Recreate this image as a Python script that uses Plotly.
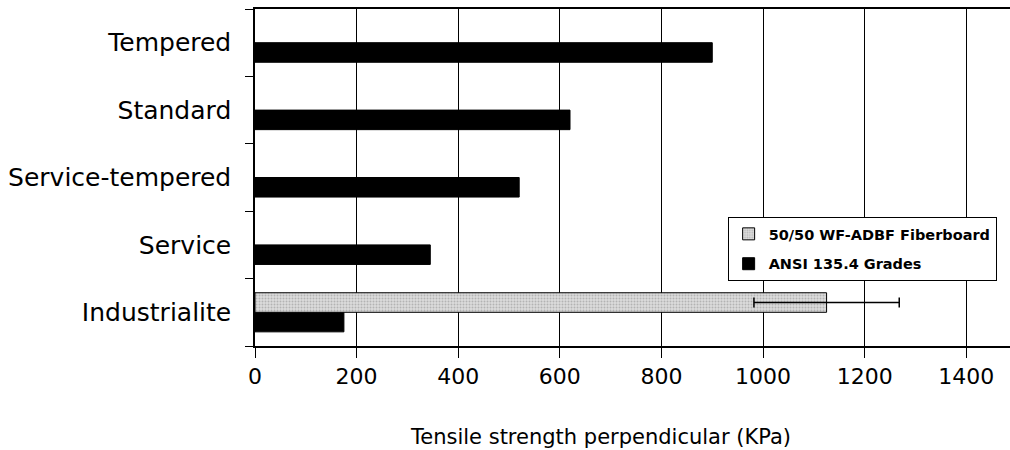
import plotly.graph_objects as go

categories = ["Industrialite", "Service", "Service-tempered", "Standard", "Tempered"]
ansi_values = [175, 345, 520, 620, 900]
fiber_categories = ["Industrialite"]
fiber_values = [1125]
fiber_err = [143]
x_ticks = [0, 200, 400, 600, 800, 1000, 1200, 1400]

FONT = "DejaVu Sans"

fig = go.Figure()
fig.add_trace(go.Bar(
    y=categories, x=ansi_values, orientation="h",
    name="ANSI 135.4 Grades", legendgroup="a", legendrank=2,
    marker=dict(color="black", line=dict(color="black", width=1)),
))
fig.add_trace(go.Bar(
    y=fiber_categories, x=fiber_values, orientation="h",
    name="50/50 WF-ADBF Fiberboard", legendgroup="b", legendrank=1,
    marker=dict(color="#d4d4d4", line=dict(color="black", width=1),
                pattern=dict(shape=".", fgcolor="#8a8a8a", bgcolor="#dcdcdc",
                             size=3, solidity=0.35)),
    error_x=dict(type="data", array=fiber_err, visible=True,
                 color="black", thickness=1.5, width=5),
))

fig.update_layout(
    width=1010, height=450,
    margin=dict(l=255, r=0, t=9, b=104),
    paper_bgcolor="white", plot_bgcolor="white",
    barmode="group", bargap=0.42, bargroupgap=0,
    font=dict(family=FONT, color="black"),
    showlegend=True,
    legend=dict(
        x=0.626, y=0.383, xanchor="left", yanchor="top",
        bordercolor="black", borderwidth=1, bgcolor="white",
        traceorder="grouped", tracegroupgap=8, itemwidth=30,
        font=dict(family=FONT, size=14.5, color="black", weight="bold"),
    ),
    xaxis=dict(
        range=[0, 1486], tickvals=x_ticks,
        showgrid=True, gridcolor="black", gridwidth=1,
        showline=True, linecolor="black", linewidth=1.5, mirror=True,
        ticks="outside", ticklen=10, tickcolor="black",
        tickfont=dict(family=FONT, size=22), zeroline=False,
    ),
    yaxis=dict(
        type="category", categoryorder="array", categoryarray=categories,
        showgrid=False, showline=True, linecolor="black", linewidth=1.5,
        ticks="outside", tickson="boundaries", ticklen=8, tickcolor="black",
        tickfont=dict(family=FONT, size=25), ticklabelstandoff=17,
    ),
    annotations=[dict(
        text="Tensile strength perpendicular (KPa)",
        xref="paper", yref="paper", x=0.458, y=0, yshift=-91,
        xanchor="center", yanchor="middle", showarrow=False,
        font=dict(family=FONT, size=21, color="black"),
    )],
)

fig.write_html(
    "out.html",
    config={"displayModeBar": False},
    post_script="document.body.style.margin='0';document.body.style.overflow='hidden';",
)
